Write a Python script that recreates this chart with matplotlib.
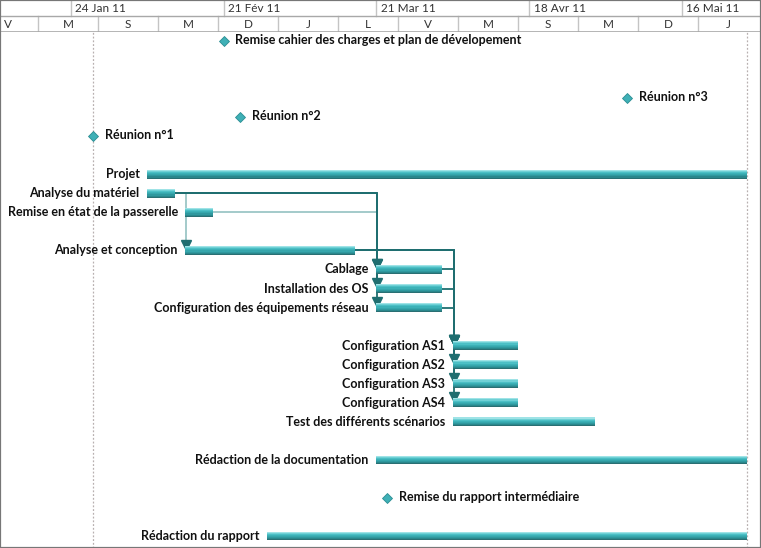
import matplotlib
matplotlib.use("Agg")
import matplotlib.pyplot as plt
import matplotlib.dates as mdates
from matplotlib.patches import Rectangle
from datetime import datetime, timedelta
import numpy as np

# ---------------- data ----------------
task_names = ["Projet", "Analyse du matériel", "Remise en état de la passerelle",
              "Analyse et conception", "Cablage", "Installation des OS",
              "Configuration des équipements réseau", "Configuration AS1",
              "Configuration AS2", "Configuration AS3", "Configuration AS4",
              "Test des différents scénarios", "Rédaction de la documentation",
              "Rédaction du rapport"]
task_rows = [7, 8, 9, 11, 12, 13, 14, 16, 17, 18, 19, 20, 22, 26]
task_starts = ["2011-02-07", "2011-02-07", "2011-02-14", "2011-02-14", "2011-03-21",
               "2011-03-21", "2011-03-21", "2011-04-04", "2011-04-04", "2011-04-04",
               "2011-04-04", "2011-04-04", "2011-03-21", "2011-03-01"]
task_ends = ["2011-05-28", "2011-02-12", "2011-02-19", "2011-03-17", "2011-04-02",
             "2011-04-02", "2011-04-02", "2011-04-16", "2011-04-16", "2011-04-16",
             "2011-04-16", "2011-04-30", "2011-05-28", "2011-05-28"]

milestone_names = ["Remise cahier des charges et plan de dévelopement", "Réunion n°3",
                   "Réunion n°2", "Réunion n°1", "Remise du rapport intermédiaire"]
milestone_rows = [0, 3, 4, 5, 24]
milestone_dates = ["2011-02-21", "2011-05-06", "2011-02-24", "2011-01-28", "2011-03-23"]

# (predecessor, successor, highlighted)
links = [
    ("Analyse du matériel", "Analyse et conception", False),
    ("Remise en état de la passerelle", "Cablage", False),
    ("Analyse du matériel", "Cablage", True),
    ("Analyse du matériel", "Installation des OS", True),
    ("Analyse du matériel", "Configuration des équipements réseau", True),
    ("Analyse et conception", "Configuration AS1", True),
    ("Analyse et conception", "Configuration AS2", True),
    ("Analyse et conception", "Configuration AS3", True),
    ("Analyse et conception", "Configuration AS4", True),
    ("Cablage", "Configuration AS1", True),
    ("Installation des OS", "Configuration AS1", True),
    ("Configuration des équipements réseau", "Configuration AS1", True),
]

guide_dates = ["2011-01-28", "2011-05-28"]

top_tier_dates = ["2011-01-24", "2011-02-21", "2011-03-21", "2011-04-18", "2011-05-16"]
top_tier_labels = ["24 Jan 11", "21 Fév 11", "21 Mar 11", "18 Avr 11", "16 Mai 11"]
bottom_tier_dates = ["2011-01-07", "2011-01-18", "2011-01-29", "2011-02-09", "2011-02-20",
                     "2011-03-03", "2011-03-14", "2011-03-25", "2011-04-05", "2011-04-16",
                     "2011-04-27", "2011-05-08", "2011-05-19"]
bottom_tier_labels = ["V", "M", "S", "M", "D", "J", "L", "V", "M", "S", "M", "D", "J"]

# ---------------- style ----------------
W, H, DPI = 761, 548, 100
HEADER_PX = 32
ROW_PX = 19.04
ROW0_PX = 41 - HEADER_PX
x0 = datetime(2011, 1, 11)
x1 = x0 + timedelta(days=139.5)

FONT = ["Lato", "DejaVu Sans"]
plt.rcParams['font.family'] = FONT
FS = 9.0

def d(s):
    return mdates.date2num(datetime.strptime(s, "%Y-%m-%d"))

fig = plt.figure(figsize=(W / DPI, H / DPI), dpi=DPI)
fig.patch.set_facecolor("white")

# main axes
main_h = (H - HEADER_PX) / H
ax = fig.add_axes([0, 0, 1, main_h])
ax.set_xlim(mdates.date2num(x0), mdates.date2num(x1))
top_row = -ROW0_PX / ROW_PX
bot_row = (H - HEADER_PX - ROW0_PX) / ROW_PX
ax.set_ylim(bot_row, top_row)
ax.axis("off")

for g in guide_dates:
    ax.axvline(d(g), color="#b8b0b0", lw=0.9, ls=(0, (1.5, 1.5)), zorder=1)

# links
dark = "#1f6e70"
light = "#9cc6c6"
idx = {n: i for i, n in enumerate(task_names)}
for highlighted in (False, True):
    for p, s, h in links:
        if h != highlighted:
            continue
        ip, is_ = idx[p], idx[s]
        xe = d(task_ends[ip])
        xs = d(task_starts[is_]) + 0.15
        yp = task_rows[ip]
        ys = task_rows[is_]
        col = dark if h else light
        ax.plot([xe, xs, xs], [yp, yp, ys - 0.3], color=col, lw=1.3,
                solid_joinstyle="round", zorder=2)
        ax.plot([xs], [ys - 0.31], marker="v", ms=6.5, color=dark,
                mec=dark, zorder=3)

# bars with gradient
bar_h = 0.46
grad = ["#9fe3e6", "#6fd0d5", "#4cbfc5", "#3cb1b7", "#36a6ac", "#2f989e", "#2a878c", "#2a6f73"]
n = len(grad)
starts = np.array([d(s) for s in task_starts])
ends = np.array([d(e) for e in task_ends])
rows = np.array(task_rows, dtype=float)
for k, c in enumerate(grad):
    yk = rows - bar_h / 2 + (k + 0.5) * bar_h / n
    ax.barh(yk, ends - starts, left=starts, height=bar_h / n, color=c,
            edgecolor="none", zorder=4)

for name, r, s in zip(task_names, task_rows, task_starts):
    ax.annotate(name, (d(s), r), xytext=(-5.5, 0), textcoords="offset points",
                ha="right", va="center", fontsize=FS, fontweight="bold",
                color="#111111", zorder=5)

# milestones
for name, r, md in zip(milestone_names, milestone_rows, milestone_dates):
    ax.plot([d(md)], [r], marker="D", ms=5.2, color="#3fb0b6", mec="#2b8d92",
            mew=0.6, zorder=5)
    ax.annotate(name, (d(md), r), xytext=(8.5, 1), textcoords="offset points",
                ha="left", va="center", fontsize=FS, fontweight="bold",
                color="#111111", zorder=5)

# header axes
axh = fig.add_axes([0, main_h, 1, HEADER_PX / H])
axh.set_xlim(mdates.date2num(x0), mdates.date2num(x1))
axh.set_ylim(2, 0)
axh.axis("off")
sep = "#c4c4c4"
for ds, lab in zip(top_tier_dates, top_tier_labels):
    axh.plot([d(ds), d(ds)], [0, 1], color=sep, lw=1.0)
    axh.text(d(ds) + 0.8, 0.5, lab, ha="left", va="center", fontsize=8.5,
             color="#333333")
for ds, lab in zip(bottom_tier_dates, bottom_tier_labels):
    axh.plot([d(ds), d(ds)], [1, 2], color=sep, lw=1.0)
    axh.text(d(ds) + 5.5, 1.5, lab, ha="center", va="center", fontsize=8.5,
             color="#333333")
axh.axhline(1, color="#a8a8a8", lw=1.0)
axh.axhline(1.97, color="#a8a8a8", lw=1.2)

fig.patches.append(Rectangle((0, 0), 1, 1, transform=fig.transFigure, fill=False,
                             edgecolor="#777777", lw=1.6, zorder=10))

fig.savefig("out.png", dpi=DPI)
